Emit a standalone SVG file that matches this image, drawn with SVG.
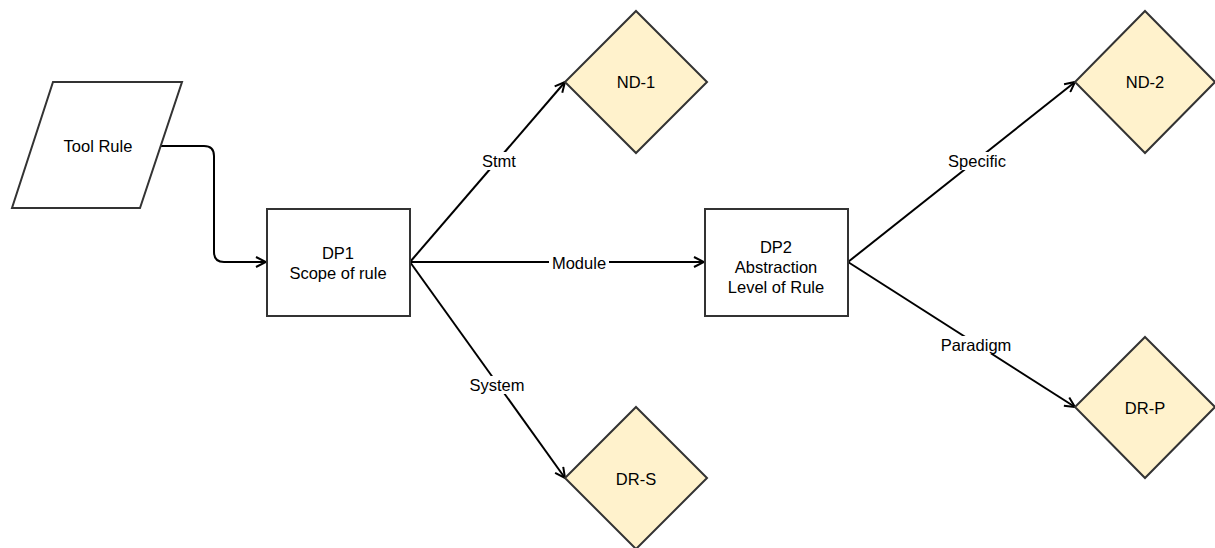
<svg xmlns="http://www.w3.org/2000/svg" width="1215" height="548" viewBox="0 0 1215 548">
<style>
.shape{stroke:#333333;stroke-width:2;}
.box{fill:#ffffff;}
.dia{fill:#fff2cc;}
.t{font-family:"Liberation Sans",Arial,sans-serif;font-size:16.5px;fill:#000;text-anchor:middle;dominant-baseline:central;}
.edge{fill:none;stroke:#000;stroke-width:2;}
.lbg{fill:#ffffff;}
</style>
<defs>
<marker id="arr" viewBox="0 0 12 12" refX="11" refY="6" markerWidth="12" markerHeight="12" markerUnits="userSpaceOnUse" orient="auto">
<polyline points="1,1 11,6 1,11" fill="none" stroke="#000" stroke-width="2"/>
</marker>
</defs>
<rect width="1215" height="548" fill="#ffffff"/>
<g id="connectors">
<path class="edge" d="M160,146 H204 Q214,146 214,156 V252 Q214,262 224,262 H266" marker-end="url(#arr)"/>
<line class="edge" x1="410" y1="262" x2="565" y2="82" marker-end="url(#arr)"/>
<line class="edge" x1="410" y1="262" x2="704" y2="262" marker-end="url(#arr)"/>
<line class="edge" x1="410" y1="262" x2="565" y2="478" marker-end="url(#arr)"/>
<line class="edge" x1="848" y1="262" x2="1075" y2="82" marker-end="url(#arr)"/>
<line class="edge" x1="848" y1="262" x2="1075" y2="407" marker-end="url(#arr)"/>
<g id="edge-labels">
<rect class="lbg" x="480" y="152" width="38" height="18"/>
<text class="t" x="499" y="161">Stmt</text>
<rect class="lbg" x="549" y="254" width="60" height="18"/>
<text class="t" x="579" y="263">Module</text>
<rect class="lbg" x="468" y="376" width="58" height="18"/>
<text class="t" x="497" y="385">System</text>
<rect class="lbg" x="945" y="152" width="64" height="18"/>
<text class="t" x="977" y="161">Specific</text>
<rect class="lbg" x="939" y="336" width="74" height="18"/>
<text class="t" x="976" y="345">Paradigm</text>
</g>
</g>
<g id="tool-rule">
<polygon class="shape box" points="53,82 182,82 140,208 12,208"/>
<text class="t" x="98" y="146">Tool Rule</text>
</g>
<g id="dp1">
<rect class="shape box" x="267" y="209" width="143" height="107"/>
<text class="t" x="338" y="253">DP1</text>
<text class="t" x="338" y="273">Scope of rule</text>
</g>
<g id="dp2">
<rect class="shape box" x="705" y="209" width="143" height="107"/>
<text class="t" x="776" y="247">DP2</text>
<text class="t" x="776" y="267">Abstraction</text>
<text class="t" x="776" y="287">Level of Rule</text>
</g>
<g id="nd1">
<polygon class="shape dia" points="636,11 707,82 636,153 565,82"/>
<text class="t" x="636" y="82">ND-1</text>
</g>
<g id="drs">
<polygon class="shape dia" points="636,407 707,478 636,549 565,478"/>
<text class="t" x="636" y="479">DR-S</text>
</g>
<g id="nd2">
<polygon class="shape dia" points="1145,11 1215,82 1145,153 1075,82"/>
<text class="t" x="1145" y="82">ND-2</text>
</g>
<g id="drp">
<polygon class="shape dia" points="1145,337 1215,407 1145,478 1075,407"/>
<text class="t" x="1145" y="408">DR-P</text>
</g>
</svg>
